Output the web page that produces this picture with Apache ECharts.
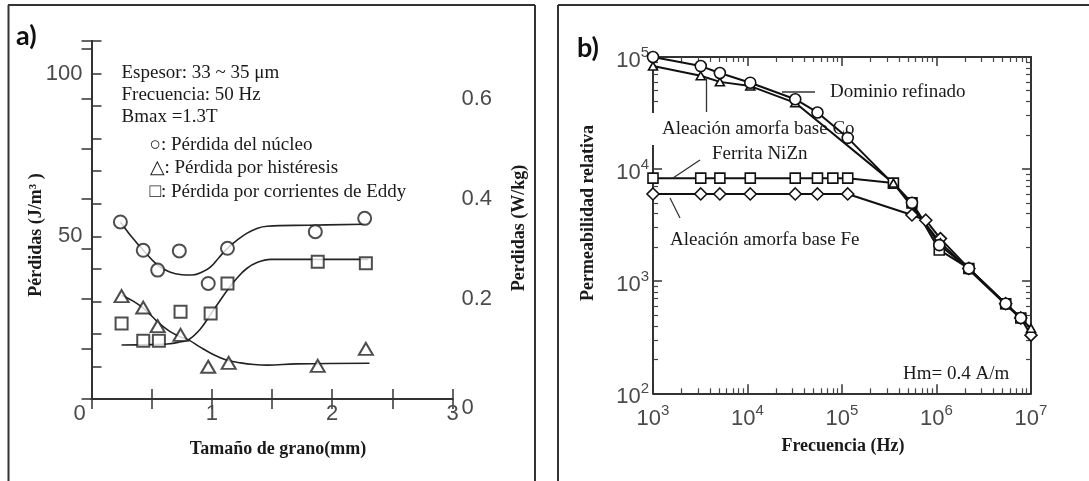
<!DOCTYPE html>
<html lang="es">
<head>
<meta charset="UTF-8">
<title>Pérdidas y permeabilidad</title>
<script src="https://cdn.jsdelivr.net/npm/echarts@6.0.0/dist/echarts.min.js"></script>
<style>
  html, body { margin: 0; padding: 0; background: #fff; }
  #main { width: 1089px; height: 481px; }
</style>
</head>
<body>
<div id="main"></div>
<script>
// ---- panel a) : losses vs grain size (x in mm, y in J/m3) ----
const corePts = [[0.24, 54.4], [0.43, 45.7], [0.55, 39.6], [0.73, 45.5], [0.97, 35.5], [1.13, 46.3], [1.86, 51.4], [2.27, 55.5]];
const eddyPts = [[0.25, 23.2], [0.43, 17.9], [0.56, 17.9], [0.74, 26.8], [0.99, 26.3], [1.13, 35.5], [1.88, 42.2], [2.28, 41.7]];
const hystPts = [[0.25, 31.6], [0.43, 28.1], [0.55, 22.4], [0.74, 19.7], [0.97, 9.9], [1.14, 11.1], [1.88, 10.2], [2.28, 15.4]];

const coreFit = [[0.24, 54.4], [0.33, 50], [0.43, 45.7], [0.55, 41.1], [0.65, 39], [0.75, 38.2], [0.84, 38.1], [0.92, 39], [0.99, 40.6], [1.06, 43.5], [1.13, 46.3], [1.21, 48.8], [1.29, 50.9], [1.38, 52.5], [1.46, 53.1], [1.8, 53.4], [2.27, 53.7]];
const eddyFit = [[0.25, 16.6], [0.5, 16.7], [0.63, 16.9], [0.72, 17.4], [0.81, 18.3], [0.9, 21.3], [0.99, 26.0], [1.06, 29.8], [1.13, 33.5], [1.21, 37.2], [1.29, 40.1], [1.38, 42], [1.49, 42.9], [2.3, 42.9]];
const hystFit = [[0.25, 31.9], [0.35, 30], [0.43, 27.9], [0.5, 25.5], [0.56, 23.3], [0.65, 20.8], [0.75, 18.9], [0.81, 18.1], [0.9, 16], [1.02, 13.5], [1.12, 12], [1.24, 11.1], [1.35, 10.6], [1.46, 10.4], [1.7, 10.8], [2.31, 11.0]];

const notesA = ['Espesor: 33 ~ 35 μm', 'Frecuencia: 50 Hz', 'Bmax =1.3T'];
const legendA = ['○: Pérdida del núcleo', '△: Pérdida por histéresis', '□: Pérdida por corrientes de Eddy'];

// ---- panel b) : relative permeability vs frequency (Hz) ----
const domainFreq = [1e3, 3.2e3, 5.1e3, 1.07e4, 3.2e4, 5.5e4, 1.15e5, 5.5e5, 1.07e6, 2.2e6, 5.4e6, 7.8e6];
const domainPerm = [1e5, 8.3e4, 7.2e4, 5.9e4, 4.2e4, 3.2e4, 1.9e4, 5000, 2100, 1300, 630, 470];
const coFreq = [1e3, 3.2e3, 5.1e3, 1.07e4, 3.2e4, 3.5e5, 1.1e6, 5.4e6, 1e7];
const coPerm = [8.3e4, 6.8e4, 6.0e4, 5.5e4, 3.9e4, 7500, 2200, 620, 380];
const ferriteFreq = [1e3, 3.2e3, 5.1e3, 1.07e4, 3.2e4, 5.5e4, 8e4, 1.15e5, 3.5e5, 5.5e5, 1.07e6, 2.2e6, 5.4e6, 7.8e6];
const ferritePerm = [8300, 8300, 8300, 8300, 8300, 8300, 8300, 8300, 7500, 5000, 1900, 1300, 630, 470];
const feFreq = [1e3, 3.2e3, 5.1e3, 1.07e4, 3.2e4, 5.5e4, 1.15e5, 5.5e5, 7.7e5, 1.1e6, 2.2e6, 5.4e6, 7.8e6, 1e7];
const fePerm = [6000, 6000, 6000, 6000, 6000, 6000, 6000, 3900, 3500, 2400, 1300, 630, 470, 330];

const ink = '#222';
const tickGray = '#4a4a4a';
const serif = '"Liberation Serif", "Times New Roman", serif';
const sans = '"Liberation Sans", Arial, sans-serif';

function zip(xs, ys) { return xs.map((x, i) => [x, ys[i]]); }

function frameAxis(extra) {
    return Object.assign({
        axisLine: { lineStyle: { color: '#333', width: 2 } },
        axisTick: { inside: true, length: 10, lineStyle: { color: '#333', width: 1.5 } },
        splitLine: { show: false }
    }, extra);
}

const powRich = {
    b: { fontFamily: sans, fontSize: 22, color: tickGray, padding: [8, 0, 0, 0] },
    s: { fontFamily: sans, fontSize: 15, color: tickGray, padding: [0, 0, 8, 0] }
};
function powLabel(v) { return '{b|10}{s|' + Math.round(Math.log10(v)) + '}'; }

function logAxis(extra) {
    return frameAxis(Object.assign({
        type: 'log', logBase: 10,
        axisTick: { inside: true, length: 9, lineStyle: { color: '#333', width: 1.5 } },
        minorTick: { show: true, splitNumber: 9, length: 5, lineStyle: { color: '#444', width: 1.2 } },
        minorSplitLine: { show: false }
    }, extra));
}

function markerSeries(data, symbol, size) {
    return {
        type: 'scatter', xAxisIndex: 0, yAxisIndex: 0, data: data,
        symbol: symbol, symbolSize: size, z: 4,
        itemStyle: { color: '#fff', borderColor: ink, borderWidth: 2 }
    };
}
function fitSeries(data) {
    return {
        type: 'line', xAxisIndex: 0, yAxisIndex: 0, data: data,
        smooth: 0.4, showSymbol: false, z: 3,
        lineStyle: { color: ink, width: 1.6 }
    };
}
function permSeries(name, xs, ys, symbol, size) {
    return {
        name: name, type: 'line', xAxisIndex: 2, yAxisIndex: 2,
        data: zip(xs, ys), symbol: symbol, symbolSize: size, showAllSymbol: true,
        lineStyle: { color: '#111', width: 2 },
        itemStyle: { color: '#fff', borderColor: '#111', borderWidth: 1.6 }
    };
}

function txt(x, y, text, font, extra) {
    return Object.assign({
        type: 'text', x: x, y: y, z: 10,
        style: Object.assign({ text: text, font: font, fill: '#1a1a1a', align: 'left', verticalAlign: 'middle' }, extra || {})
    });
}
function seg(x1, y1, x2, y2, w) {
    return { type: 'line', z: 10, shape: { x1: x1, y1: y1, x2: x2, y2: y2 }, style: { stroke: '#333', lineWidth: w || 1.3 } };
}

const graphics = [
    // panel frames
    seg(8.5, 5, 8.5, 481, 2), seg(8, 5, 535, 5, 2), seg(535, 5, 535, 481, 2),
    seg(558, 5, 558, 481, 2), seg(558, 5, 1089, 5, 2),
    txt(16, 36, 'a)', 'bold 27px Lato, "Liberation Sans", sans-serif', { fill: '#111' }),
    txt(577, 48, 'b)', 'bold 27px Lato, "Liberation Sans", sans-serif', { fill: '#111' }),
    // axis titles
    Object.assign(txt(36, 235, 'Pérdidas (J/m³ )', 'bold 18px ' + serif, { align: 'center' }), { rotation: Math.PI / 2 }),
    Object.assign(txt(519, 228, 'Perdidas (W/kg)', 'bold 18px ' + serif, { align: 'center' }), { rotation: Math.PI / 2 }),
    txt(278, 449, 'Tamaño de grano(mm)', 'bold 18px ' + serif, { align: 'center' }),
    Object.assign(txt(588, 213, 'Permeabilidad relativa', 'bold 18px ' + serif, { align: 'center' }), { rotation: Math.PI / 2 }),
    txt(843, 446, 'Frecuencia (Hz)', 'bold 18px ' + serif, { align: 'center' }),
    // panel b label box and pointers
    { type: 'rect', z: 5, shape: { x: 646, y: 113, width: 150, height: 32 }, style: { fill: '#fff' } },
    seg(782, 92, 815, 92), seg(706.5, 77, 706.5, 112), seg(673, 178, 700, 160), seg(670, 198, 680, 218),
    txt(830, 92, 'Dominio refinado', '19px ' + serif),
    txt(662, 129, 'Aleación amorfa base Co', '19px ' + serif),
    txt(712, 154, 'Ferrita NiZn', '19px ' + serif),
    txt(670, 240, 'Aleación amorfa base Fe', '19px ' + serif),
    txt(903, 374, 'Hm= 0.4 A/m', '19px ' + serif)
];
const noteY = [73, 95.5, 117];
notesA.forEach((t, i) => graphics.push(txt(121.5, noteY[i], t, '19px ' + serif)));
const legY = [145.5, 168, 192];
legendA.forEach((t, i) => graphics.push(txt(149.5, legY[i], t, '19px ' + serif)));

const option = {
    animation: false,
    backgroundColor: '#fff',
    grid: [
        { left: 91.5, top: 41, width: 361, height: 358 },
        { left: 653, top: 57, width: 378, height: 336.3 }
    ],
    xAxis: [
        frameAxis({
            type: 'value', gridIndex: 0, min: 0, max: 3, interval: 0.5, position: 'bottom',
            axisLabel: {
                margin: 4, interval: 0, fontFamily: sans, fontSize: 22, color: tickGray,
                formatter: v => v === 0 ? '{l|0}' : (Number.isInteger(v) ? String(v) : ''),
                rich: { l: { fontFamily: sans, fontSize: 22, color: tickGray, padding: [0, 24, 0, 0] } }
            }
        }),
        frameAxis({
            type: 'value', gridIndex: 0, min: 0, max: 3, interval: 0.5, position: 'top',
            axisLabel: { show: false }
        }),
        logAxis({
            gridIndex: 1, min: 1e3, max: 1e7, position: 'bottom',
            axisLabel: { margin: 7, formatter: powLabel, rich: powRich }
        }),
        logAxis({
            gridIndex: 1, min: 1e3, max: 1e7, position: 'top',
            axisLabel: { show: false }
        })
    ],
    yAxis: [
        frameAxis({
            type: 'value', gridIndex: 0, min: 0, max: 110, interval: 10, position: 'left',
            axisLabel: {
                margin: 9, fontFamily: sans, fontSize: 22, color: tickGray,
                formatter: v => (v === 50 || v === 100) ? String(v) : ''
            }
        }),
        frameAxis({
            type: 'value', gridIndex: 0, min: 0, max: 0.716, interval: 0.1, position: 'right',
            axisLabel: {
                margin: 9, fontFamily: sans, fontSize: 22, color: tickGray,
                formatter: v => {
                    if (Math.abs(v) < 1e-6) return '{z|0}';
                    for (const t of [0.2, 0.4, 0.6]) if (Math.abs(v - t) < 1e-6) return t.toFixed(1);
                    return '';
                },
                rich: { z: { fontFamily: sans, fontSize: 22, color: tickGray, padding: [18, 0, 0, 0] } }
            }
        }),
        logAxis({
            gridIndex: 1, min: 100, max: 1e5, position: 'left',
            axisLabel: { margin: 4, formatter: powLabel, rich: powRich }
        }),
        logAxis({
            gridIndex: 1, min: 100, max: 1e5, position: 'right',
            axisLabel: { show: false }
        })
    ],
    series: [
        fitSeries(coreFit),
        fitSeries(eddyFit),
        fitSeries(hystFit),
        markerSeries(corePts, 'circle', 13),
        markerSeries(eddyPts, 'rect', 12),
        markerSeries(hystPts, 'triangle', [14, 12]),
        permSeries('Ferrita NiZn', ferriteFreq, ferritePerm, 'rect', 10),
        permSeries('Aleación amorfa base Fe', feFreq, fePerm, 'diamond', [12, 12]),
        permSeries('Aleación amorfa base Co', coFreq, coPerm, 'triangle', [9, 8]),
        permSeries('Dominio refinado', domainFreq, domainPerm, 'circle', 11)
    ],
    graphic: graphics
};

const chart = echarts.init(document.getElementById('main'), null, { renderer: 'canvas' });
chart.setOption(option);
</script>
</body>
</html>
